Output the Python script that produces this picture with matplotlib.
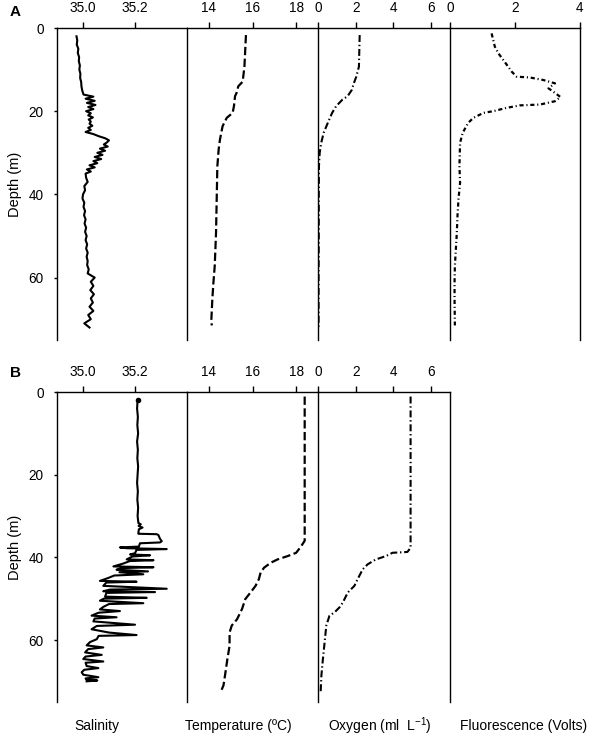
import matplotlib
matplotlib.use("Agg")
import matplotlib.pyplot as plt

plt.rcParams['font.family'] = ['Liberation Sans', 'DejaVu Sans']
plt.rcParams['mathtext.default'] = 'regular'
plt.rcParams['lines.scale_dashes'] = False

# ---- Perfil A ----
prof_a_sal = [2, 3, 4, 5, 6, 7, 8, 9, 10, 11, 12, 13, 14, 15,
              16.0, 16.5, 17.0, 17.5, 18.0, 18.5, 19.0, 19.5, 20.0, 20.5, 21.0, 21.5, 22.0,
              22.5, 23.0, 23.5, 24.0, 24.5, 25.0, 25.5, 26.0, 26.5, 27.0, 27.5, 28.0, 28.5,
              29.0, 29.5, 30.0, 30.5, 31.0, 31.5, 32.0, 32.5, 33.0, 33.5, 34.0, 34.5, 35.0,
              36, 37, 38, 39, 40, 41, 42, 43, 44, 45, 46, 47, 48, 49, 50, 51, 52, 53, 54,
              55, 56, 57, 58, 59, 60, 61, 62, 63, 64, 65, 66, 67, 68, 69, 70, 71, 72]
sal_a = [34.975, 34.978, 34.976, 34.982, 34.980, 34.985, 34.984, 34.988, 34.986, 34.990,
         34.989, 34.993, 34.994, 34.997,
         35.002, 35.040, 35.010, 35.045, 35.015, 35.048, 35.020, 35.040, 35.012, 35.030,
         35.020, 35.038, 35.022, 35.030, 35.025, 35.036, 35.020, 35.030, 35.010, 35.040,
         35.060, 35.085, 35.100, 35.092, 35.080, 35.095, 35.065, 35.085, 35.055, 35.075,
         35.045, 35.070, 35.040, 35.055, 35.025, 35.045, 35.015, 35.030, 35.010,
         35.012, 35.018, 35.005, 35.008, 35.000, 34.998, 35.005, 35.002, 35.008, 35.004,
         35.010, 35.006, 35.012, 35.008, 35.014, 35.010, 35.016, 35.012, 35.018, 35.014,
         35.018, 35.016, 35.022, 35.018, 35.045, 35.030, 35.040, 35.028, 35.042, 35.030,
         35.038, 35.025, 35.040, 35.020, 35.030, 35.005, 35.025]

prof_a_temp = [1.7, 9.3, 12.9, 14.0, 15.6, 16.4, 18.8, 20.4, 21.6, 23.6, 26.8, 29.2,
               33.2, 41.2, 49.2, 57.2, 61.2, 65.2, 70.7, 71.5]
temp_a = [15.70, 15.63, 15.55, 15.35, 15.27, 15.20, 15.15, 15.09, 14.82, 14.63, 14.51, 14.45,
          14.39, 14.36, 14.33, 14.27, 14.21, 14.16, 14.11, 14.14]

prof_a_oxi = [1.7, 9.3, 11.7, 13.3, 14.9, 16.4, 17.2, 18.8, 20.4, 22.8, 25.2, 27.6, 30.0,
              33.2, 41.0, 50.0, 60.0, 72.0]
oxi_a = [2.21, 2.17, 2.03, 1.90, 1.79, 1.57, 1.30, 0.96, 0.75, 0.52, 0.30, 0.17, 0.09,
         0.05, 0.04, 0.04, 0.03, 0.03]

prof_a_fluo = [1.3, 2.9, 4.5, 6.1, 7.7, 9.3, 10.5, 11.7, 11.9, 12.5, 13.3, 14.5, 15.6, 16.6,
               17.6, 18.4, 18.6, 19.2, 20.0, 20.4, 21.6, 22.8, 25.2, 27.6, 33.2, 37.2, 41.2,
               45.2, 49.2, 53.2, 57.2, 61.2, 65.2, 71.5]
fluo_a = [1.28, 1.33, 1.38, 1.49, 1.64, 1.79, 1.90, 2.05, 2.46, 2.87, 3.23, 3.03, 3.23, 3.40,
          3.23, 2.77, 2.15, 1.74, 1.33, 1.03, 0.72, 0.56, 0.39, 0.31, 0.29, 0.31, 0.26,
          0.23, 0.21, 0.18, 0.15, 0.14, 0.14, 0.15]

# ---- Perfil B ----
prof_b_sal = [1.9, 4, 6, 8, 10, 12, 14, 16, 18, 20, 22, 24, 26, 28, 30,
              31.7, 32.0, 32.4, 32.8, 33.2, 34.0, 34.3, 34.4, 34.6, 35.5, 36.1, 36.4, 36.6,
              37.4, 37.6, 37.8, 38.0, 38.2, 39.0, 39.3, 39.5, 39.8, 40.5, 40.7, 40.9, 41.5,
              42.2, 42.4, 42.6, 43.0, 43.4, 43.6, 44.1, 44.4, 45.0, 45.7, 45.9, 46.1, 46.9,
              47.6, 47.8, 48.2, 48.4, 48.6, 49.5, 49.8, 50.0, 50.5, 51.1, 51.3, 52.0, 52.6,
              53.0, 53.4, 54.1, 54.5, 54.8, 55.5, 56.3, 56.6, 57.4, 58.2, 58.8, 59.0, 59.8,
              60.5, 61.3, 61.8, 62.2, 63.0, 63.6, 64.0, 64.6, 65.2, 65.5, 66.3, 66.8, 67.2,
              67.8, 68.4, 69.0, 69.3, 69.6, 69.8, 70.0]
sal_b = [35.210, 35.208, 35.211, 35.209, 35.212, 35.208, 35.211, 35.209, 35.212, 35.210,
         35.208, 35.211, 35.209, 35.212, 35.210,
         35.213, 35.222, 35.214, 35.229, 35.215, 35.213, 35.213, 35.283, 35.290, 35.296,
         35.303, 35.296, 35.219, 35.215, 35.142, 35.170, 35.322, 35.206, 35.200, 35.181,
         35.258, 35.190, 35.168, 35.271, 35.180, 35.155, 35.117, 35.271, 35.150, 35.129,
         35.250, 35.140, 35.232, 35.120, 35.097, 35.065, 35.206, 35.090, 35.078, 35.322,
         35.104, 35.078, 35.277, 35.090, 35.085, 35.245, 35.080, 35.065, 35.232, 35.100,
         35.078, 35.065, 35.142, 35.060, 35.033, 35.129, 35.045, 35.040, 35.200, 35.053,
         35.033, 35.100, 35.206, 35.060, 35.053, 35.027, 35.014, 35.078, 35.020, 35.008,
         35.072, 35.010, 35.001, 35.078, 35.010, 35.014, 35.059, 35.005, 34.995, 35.001,
         35.059, 35.010, 35.014, 35.055, 35.014]

prof_b_temp = [1.1, 36.0, 37.3, 38.9, 39.7, 40.5, 41.3, 42.5, 43.7, 45.3, 46.9, 48.5, 50.1,
               52.5, 55.0, 56.5, 58.2, 61.4, 64.6, 68.6, 71.0, 72.6]
temp_b = [18.39, 18.39, 18.23, 18.00, 17.61, 17.15, 16.84, 16.53, 16.37, 16.29, 16.14, 15.91,
          15.67, 15.52, 15.29, 15.05, 14.95, 14.95, 14.85, 14.74, 14.67, 14.54]

prof_b_oxi = [1.1, 37.7, 38.7, 38.9, 39.7, 40.5, 41.7, 42.9, 45.3, 46.9, 48.5, 50.9, 52.1,
              53.3, 54.1, 56.5, 60.6, 64.6, 68.6, 72.6]
oxi_b = [4.91, 4.91, 4.74, 3.95, 3.60, 3.07, 2.63, 2.37, 2.10, 1.93, 1.58, 1.32, 1.14,
         0.88, 0.61, 0.44, 0.35, 0.26, 0.18, 0.14]

# limites y ticks de cada variable
lim_sal = (34.9, 35.4)
lim_temp = (13, 19)
lim_oxi = (0, 7)
lim_fluo = (0, 4)
ticks_sal = [35.0, 35.2]
ticks_temp = [14, 16, 18]
ticks_oxi = [0, 2, 4, 6]
ticks_fluo = [0, 2, 4]
ticks_prof = [0, 20, 40, 60]

fig = plt.figure(figsize=(6, 7.36), dpi=100)

W, H = 600.0, 736.0
bordes_x = [57, 187, 318, 450, 580]
filas = [(28, 340), (392, 702)]


def crear_eje(col, fila, ultimo):
    x0, x1 = bordes_x[col], bordes_x[col + 1]
    top, bot = filas[fila]
    ax = fig.add_axes([x0 / W, 1 - bot / H, (x1 - x0) / W, (bot - top) / H])
    ax.set_ylim(75, 0)
    ax.xaxis.tick_top()
    ax.spines['bottom'].set_visible(False)
    ax.spines['right'].set_visible(ultimo)
    for s in ax.spines.values():
        s.set_linewidth(1.0)
    ax.tick_params(axis='x', direction='out', length=4.5, width=1.0, labelsize=9.8, pad=4.5)
    if col == 0:
        ax.set_yticks(ticks_prof)
        ax.tick_params(axis='y', direction='out', length=2.5, width=1.0, labelsize=9.8, pad=7)
        ax.set_ylabel('Depth (m)', fontsize=10.5, labelpad=5)
    else:
        ax.set_yticks([])
    return ax


sal_style = dict(color='black', lw=1.5)
temp_style = dict(color='black', lw=1.6, dashes=(6, 2.5))
oxi_style = dict(color='black', lw=1.5, dashes=(5, 2, 1, 2))
fluo_style = dict(color='black', lw=1.6, dashes=(3, 2, 0.8, 2))

# Panel A
ax = crear_eje(0, 0, False)
ax.plot(sal_a, prof_a_sal, **sal_style)
ax.set_xlim(*lim_sal)
ax.set_xticks(ticks_sal)
ax.set_xticklabels(['35.0', '35.2'])

ax = crear_eje(1, 0, False)
ax.plot(temp_a, prof_a_temp, **temp_style)
ax.set_xlim(*lim_temp)
ax.set_xticks(ticks_temp)

ax = crear_eje(2, 0, False)
ax.plot(oxi_a, prof_a_oxi, **oxi_style)
ax.set_xlim(*lim_oxi)
ax.set_xticks(ticks_oxi)

ax = crear_eje(3, 0, True)
ax.plot(fluo_a, prof_a_fluo, **fluo_style)
ax.set_xlim(*lim_fluo)
ax.set_xticks(ticks_fluo)

# Panel B
ax = crear_eje(0, 1, False)
ax.plot(sal_b, prof_b_sal, **sal_style)
ax.plot(sal_b[0], prof_b_sal[0], 'o', color='black', ms=3)
ax.set_xlim(*lim_sal)
ax.set_xticks(ticks_sal)
ax.set_xticklabels(['35.0', '35.2'])

ax = crear_eje(1, 1, False)
ax.plot(temp_b, prof_b_temp, **temp_style)
ax.set_xlim(*lim_temp)
ax.set_xticks(ticks_temp)

ax = crear_eje(2, 1, True)
ax.plot(oxi_b, prof_b_oxi, **oxi_style)
ax.set_xlim(*lim_oxi)
ax.set_xticks(ticks_oxi)

# letras de panel y etiquetas de abajo
fig.text(10 / W, 1 - 12 / H, 'A', fontsize=11, fontweight='bold', va='center')
fig.text(10 / W, 1 - 373 / H, 'B', fontsize=11, fontweight='bold', va='center')

etiquetas = ['Salinity', 'Temperature (ºC)', 'Oxygen (ml  L$^{-1}$)', 'Fluorescence (Volts)']
pos_x = [97, 238, 380, 524]
for txt, px in zip(etiquetas, pos_x):
    fig.text(px / W, 1 - 726 / H, txt, fontsize=10, ha='center', va='center')

fig.savefig('out.png', dpi=100)
